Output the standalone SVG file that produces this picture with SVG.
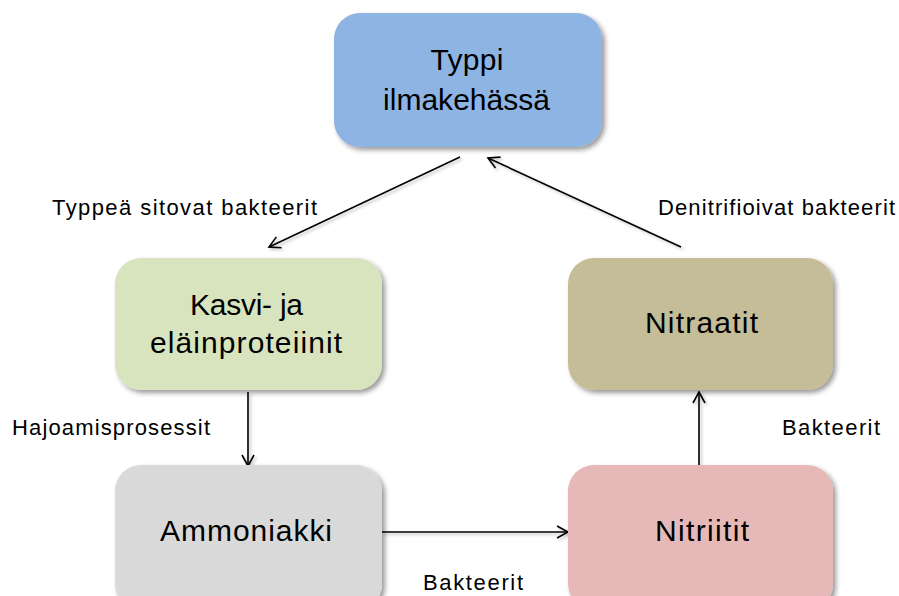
<svg xmlns="http://www.w3.org/2000/svg" width="899" height="596" viewBox="0 0 899 596">
<defs>
<filter id="sh" x="-10%" y="-10%" width="130%" height="140%">
<feDropShadow dx="3" dy="3" stdDeviation="2.5" flood-color="#000" flood-opacity="0.4"/>
</filter>
<filter id="lsh" filterUnits="userSpaceOnUse" x="0" y="0" width="899" height="596">
<feDropShadow dx="2" dy="2" stdDeviation="1.5" flood-color="#000" flood-opacity="0.25"/>
</filter>
<marker id="arr" markerUnits="userSpaceOnUse" markerWidth="16" markerHeight="16" viewBox="0 0 16 16" refX="14" refY="8" orient="auto">
<path d="M3,2 L14,8 L3,14" fill="none" stroke="#000" stroke-width="1.6"/>
</marker>
</defs>
<style>
.box{filter:url(#sh);}
.t{font-family:"Liberation Sans",Arial,sans-serif;font-size:30px;fill:#000;text-anchor:middle;}
.l{font-family:"Liberation Sans",Arial,sans-serif;font-size:22px;fill:#000;text-anchor:middle;}
.c{stroke:#000;stroke-width:1.6;fill:none;marker-end:url(#arr);filter:url(#lsh);}
</style>
<rect width="899" height="596" fill="#fff"/>
<g id="connectors">
<line class="c" x1="460" y1="157" x2="269" y2="247"/>
<line class="c" x1="681" y1="247" x2="488" y2="158"/>
<line class="c" x1="248" y1="392" x2="248" y2="466"/>
<line class="c" x1="382" y1="532" x2="568" y2="532"/>
<line class="c" x1="699" y1="467" x2="699" y2="392"/>
</g>
<g id="n_typpi">
<rect class="box" x="334" y="13" width="268" height="134" rx="26" fill="#8EB4E3"/>
<text class="t" x="467" y="70" textLength="73">Typpi</text>
<text class="t" x="466.5" y="110" textLength="167">ilmakehässä</text>
</g>
<g id="n_kasvi">
<rect class="box" x="115" y="258" width="267" height="132" rx="26" fill="#D7E4BD"/>
<text class="t" x="246.5" y="315" textLength="113">Kasvi- ja</text>
<text class="t" x="246" y="353" textLength="192">eläinproteiinit</text>
</g>
<g id="n_nitraatit">
<rect class="box" x="568" y="258" width="265" height="132" rx="26" fill="#C4BD97"/>
<text class="t" x="701.5" y="333" textLength="113">Nitraatit</text>
</g>
<g id="n_ammoniakki">
<rect class="box" x="115" y="465" width="267" height="145" rx="26" fill="#D9D9D9"/>
<text class="t" x="246" y="541" textLength="172">Ammoniakki</text>
</g>
<g id="n_nitriitit">
<rect class="box" x="568" y="465" width="265" height="145" rx="26" fill="#E6B9B8"/>
<text class="t" x="702" y="541" textLength="94">Nitriitit</text>
</g>
<g id="labels">
<text class="l" x="184.5" y="215" textLength="265">Typpeä sitovat bakteerit</text>
<text class="l" x="776.5" y="215" textLength="237">Denitrifioivat bakteerit</text>
<text class="l" x="111" y="435" textLength="198">Hajoamisprosessit</text>
<text class="l" x="831" y="435" textLength="98">Bakteerit</text>
<text class="l" x="473" y="590" textLength="100">Bakteerit</text>
</g>
</svg>
